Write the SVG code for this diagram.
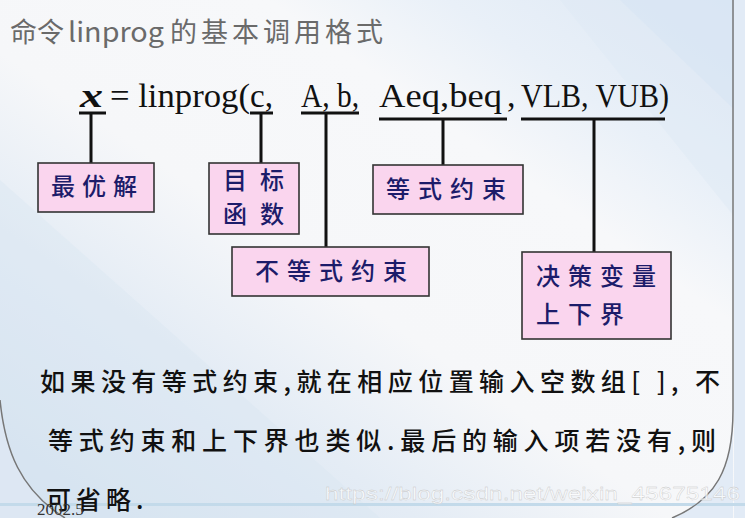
<svg xmlns="http://www.w3.org/2000/svg" width="745" height="518" viewBox="0 0 745 518">
  <defs>
    <linearGradient id="bg" x1="0" y1="1" x2="1" y2="0">
      <stop offset="0" stop-color="#D3E1F0"/>
      <stop offset="0.28" stop-color="#E4ECF5"/>
      <stop offset="0.45" stop-color="#F6F7F9"/>
      <stop offset="0.68" stop-color="#F7F8FA"/>
      <stop offset="0.8" stop-color="#E9F0F8"/>
      <stop offset="1" stop-color="#DCE7F4"/>
    </linearGradient>
    <style>
      .box { fill: #FAD5EE; stroke: #333; stroke-width: 1.6; }
      .lbl { font-family: "Noto Sans CJK SC", "Noto Sans", sans-serif; font-size: 24px; font-weight: 500; fill: #1C1C6A; }
      .formula { font-family: "Liberation Serif", "Times New Roman", serif; font-size: 34px; fill: #111; }
      .body { font-family: "Noto Sans CJK SC", "Noto Sans", sans-serif; font-size: 25px; font-weight: 500; fill: #111; }
      .conn { stroke: #111; stroke-width: 3; fill: none; }
    </style>
  </defs>

  <!-- background -->
  <rect x="0" y="0" width="745" height="518" fill="url(#bg)"/>
  <polygon points="560,0 745,0 745,230" fill="#DDE8F5" opacity="0.45"/>
  <polygon points="620,0 745,0 745,120" fill="#D6E3F3" opacity="0.5"/>
  <polygon points="0,180 0,518 380,518" fill="#D8E5F2" opacity="0.35"/>
  <rect x="734" y="0" width="11" height="518" fill="#E2EBF6"/>
  <path d="M672 518 C715 500 733 470 733 410 V518 Z" fill="#E2EBF6"/>
  <path d="M0 400 C5 450 20 490 65 518 H0 Z" fill="#DDE7F3"/>
  <rect x="0" y="503" width="745" height="3" fill="#C3DAEA"/>
  <path d="M733 0 V410 C733 470 715 500 672 518" fill="none" stroke="#777" stroke-width="1.5"/>
  <path d="M0 400 C5 450 20 490 65 518" fill="none" stroke="#777" stroke-width="1.5"/>

  <!-- title -->
  <text y="42" font-family="Noto Sans CJK SC, Noto Sans, sans-serif" font-size="27" fill="#6A6A6A">
    <tspan x="10">命令</tspan><tspan x="68" textLength="96" lengthAdjust="spacingAndGlyphs">linprog</tspan><tspan x="170" letter-spacing="4">的基本调用格式</tspan>
  </text>

  <!-- formula -->
  <g id="formula" class="formula">
    <text x="80" y="107" font-weight="bold" font-style="italic" textLength="23" lengthAdjust="spacingAndGlyphs">x</text>
    <text x="110" y="107" textLength="140" lengthAdjust="spacingAndGlyphs">= linprog(</text>
    <text x="250" y="107" textLength="23" lengthAdjust="spacingAndGlyphs">c,</text>
    <text x="301" y="107" textLength="58" lengthAdjust="spacingAndGlyphs">A, b,</text>
    <text x="379" y="107" textLength="123" lengthAdjust="spacingAndGlyphs">Aeq,beq</text>
    <text x="507" y="107">,</text>
    <text x="521" y="107" textLength="148" lengthAdjust="spacingAndGlyphs">VLB, VUB)</text>
  </g>

  <!-- connectors -->
  <g id="connectors" class="conn">
    <path d="M79 113 H106 M91 113 V163"/>
    <path d="M250 113 H273 M261 113 V163"/>
    <path d="M301 113 H359 M326 113 V247"/>
    <path d="M379 119 H507 M443 119 V165"/>
    <path d="M521 119 H665 M594 119 V252"/>
  </g>

  <!-- nodes -->
  <g id="node-zuiyoujie">
    <rect class="box" x="38" y="163" width="116" height="49"/>
    <text class="lbl" x="51" y="195" letter-spacing="7">最优解</text>
  </g>
  <g id="node-mubiaohanshu">
    <rect class="box" x="209" y="163" width="90" height="71"/>
    <text class="lbl" x="223" y="189" font-size="20" letter-spacing="13">目标</text>
    <text class="lbl" x="223" y="223" font-size="20" letter-spacing="13">函数</text>
  </g>
  <g id="node-budengshi">
    <rect class="box" x="232" y="247" width="197" height="49"/>
    <text class="lbl" x="255" y="280" letter-spacing="8">不等式约束</text>
  </g>
  <g id="node-dengshi">
    <rect class="box" x="373" y="165" width="150" height="49"/>
    <text class="lbl" x="386" y="198" letter-spacing="8">等式约束</text>
  </g>
  <g id="node-juece">
    <rect class="box" x="522" y="252" width="149" height="87"/>
    <text class="lbl" x="536" y="285" font-size="23" letter-spacing="8">决策变量</text>
    <text class="lbl" x="536" y="323" font-size="23" letter-spacing="8">上下界</text>
  </g>

  <!-- body text -->
  <text class="body" x="40" y="391" textLength="680" lengthAdjust="spacing">如果没有等式约束,就在相应位置输入空数组[ ], 不</text>
  <text class="body" x="48" y="450" textLength="668" lengthAdjust="spacing">等式约束和上下界也类似.最后的输入项若没有,则</text>
  <text class="body" x="46" y="509" letter-spacing="5">可省略.</text>

  <text x="37" y="515" font-family="Liberation Serif, serif" font-size="17" fill="#333">2002.5</text>
  <text x="325" y="500" font-family="Liberation Sans, Arial, sans-serif" font-size="19" fill="#FFFFFF" fill-opacity="0.7" stroke="#C4C4C4" stroke-width="0.3" textLength="415" lengthAdjust="spacingAndGlyphs">https://blog.csdn.net/weixin_45675146</text>
</svg>
